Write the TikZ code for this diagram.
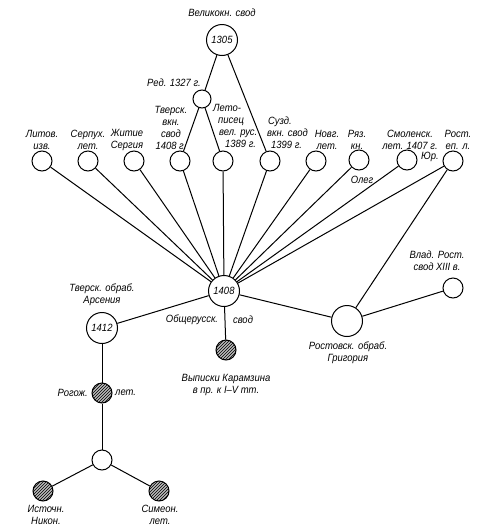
\documentclass[tikz,border=0pt]{standalone}
\usepackage{fontspec}
\setmainfont{Liberation Sans}[FakeStretch=0.9]
\usetikzlibrary{patterns}
\begin{document}
\begin{tikzpicture}[x=1pt,y=-1pt,
  every node/.style={font=\itshape\fontsize{10.5}{12}\selectfont},
  big/.style={circle,draw,line width=1pt,minimum size=31pt,inner sep=0pt},
  small/.style={circle,draw,line width=1pt,minimum size=20pt,inner sep=0pt},
  hatch/.style={small,preaction={fill=gray!55},pattern=north east lines},
  lbl/.style={align=center,inner sep=0pt},
  conn/.style={line width=1pt}]
\useasboundingbox (0,0) rectangle (484,531);
% nodes
\node[big] (n1305) at (222,40) {1305};
\node[small,minimum size=18pt] (n1327) at (202,99) {};
\node[small] (lit) at (42,161) {};
\node[small] (serp) at (88,161) {};
\node[small] (zhit) at (134,161) {};
\node[small] (tver) at (180,161) {};
\node[small] (letop) at (223,161) {};
\node[small] (suzd) at (270,161) {};
\node[small] (novg) at (316,161) {};
\node[small] (ryaz) at (359,160) {};
\node[small] (smol) at (407,160) {};
\node[small] (rost) at (453,161) {};
\node[big] (n1408) at (224,291) {1408};
\node[big] (n1412) at (102,328) {1412};
\node[hatch] (kar) at (226,350) {};
\node[big] (rostg) at (347,321) {};
\node[small] (vlad) at (453,288) {};
\node[hatch] (rog) at (102,393) {};
\node[small] (junc) at (102,460) {};
\node[hatch] (ist) at (43,491) {};
\node[hatch] (sim) at (159,491) {};
% labels
\node[lbl] (l1305) at (222,13) {Великокн. свод};
\node[lbl] (l1327) at (174,83) {Ред. 1327 г.};
\node[lbl] (llit) at (42,140) {Литов.\\изв.};
\node[lbl] (lserp) at (88,140) {Серпух.\\лет.};
\node[lbl] (lzhit) at (127,140) {Житие\\Сергия};
\node[lbl] (ltver) at (171,128) {Тверск.\\вкн.\\свод\\1408 г.};
\node[lbl,align=left,anchor=west] (lletop) at (213,126) {Лето-\\\hspace*{5pt}писец\\\hspace*{6pt}вел. рус.\\\hspace*{12pt}1389 г.};
\node[lbl,align=left,anchor=west] (lsuzd) at (267,133) {\hspace*{1pt}Сузд.\\вкн. свод\\\hspace*{4pt}1399 г.};
\node[lbl] (lnovg) at (327,140) {Новг.\\лет.};
\node[lbl] (lryaz) at (357,140) {Ряз.\\кн.};
\node[lbl] (lsmol) at (410,140) {Смоленск.\\лет. 1407 г.};
\node[lbl] (lrost) at (458,140) {Рост.\\еп. л.};
\node[lbl] (lyur) at (430,157) {Юр.};
\node[lbl] (loleg) at (362,180) {Олег};
\node[lbl] (l1412) at (102,295) {Тверск. обраб.\\Арсения};
\node[lbl] (lobsh) at (192,320) {Общерусск.};
\node[lbl] (lsvod) at (243,320) {свод};
\node[lbl] (lkar) at (226,385) {Выписки Карамзина\\в пр. к I--V тт.};
\node[lbl] (lvlad) at (437,261) {Влад. Рост.\\свод XIII в.};
\node[lbl] (lrostg) at (348,353) {Ростовск. обраб.\\Григория};
\node[lbl,anchor=east] (lrog1) at (88,393) {Рогож.};
\node[lbl,anchor=west] (lrog2) at (115,393) {лет.};
\node[lbl] (list) at (46,515) {Источн.\\Никон.};
\node[lbl] (lsim) at (160,515) {Симеон.\\лет.};
% connectors
\draw[conn] (n1305) -- (n1327);
\draw[conn] (n1305) -- (suzd);
\draw[conn] (n1327) -- (tver);
\draw[conn] (n1327) -- (letop);
\foreach \t in {lit,serp,zhit,tver,letop,suzd,novg,ryaz,smol,rost}
  \draw[conn] (\t) -- (n1408);
\draw[conn] (rost) -- (rostg);
\draw[conn] (n1408) -- (rostg);
\draw[conn] (rostg) -- (vlad);
\draw[conn] (n1408) -- (n1412);
\draw[conn] (n1408) -- (kar);
\draw[conn] (n1412) -- (rog);
\draw[conn] (rog) -- (junc);
\draw[conn] (junc) -- (ist);
\draw[conn] (junc) -- (sim);
\end{tikzpicture}
\end{document}
